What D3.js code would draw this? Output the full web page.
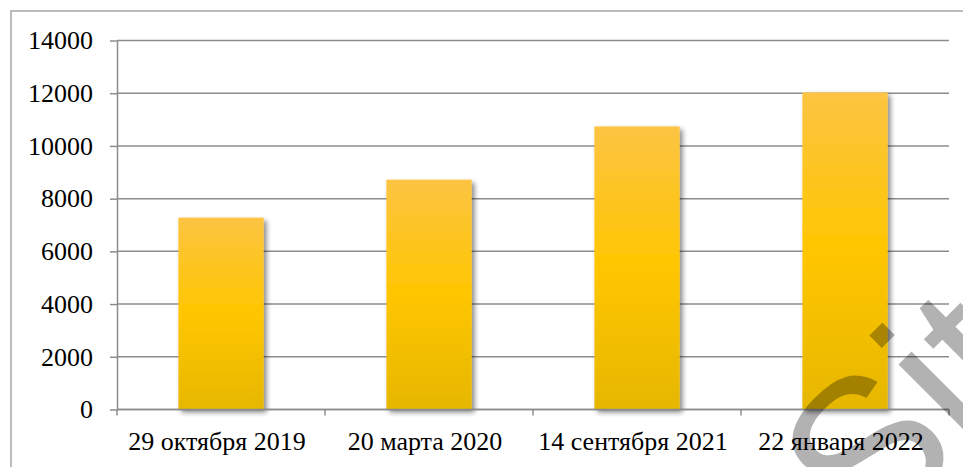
<!DOCTYPE html>
<html>
<head>
<meta charset="utf-8">
<script src="https://cdn.jsdelivr.net/npm/d3@7"></script>
<style>
  body { margin: 0; background: #fff; }
  text.lbl { font-family: "Liberation Serif", "Times New Roman", serif; }
</style>
</head>
<body>
<div id="chart"></div>
<script>
var categories = ["29 октября 2019", "20 марта 2020", "14 сентября 2021", "22 января 2022"];
var values = [7280, 8720, 10740, 12030];
var yTicks = [0, 2000, 4000, 6000, 8000, 10000, 12000, 14000];

var W = 963, H = 467;
var margin = {left: 117, right: 949, top: 40.5, bottom: 409.5};

var svg = d3.select('#chart').append('svg')
	.attr('width', W)
	.attr('height', H);

var defs = svg.append('defs');
var grad = defs.append('linearGradient')
	.attr('id', 'barGrad')
	.attr('x1', 0).attr('y1', 0).attr('x2', 0).attr('y2', 1);
grad.append('stop').attr('offset', '0%').attr('stop-color', '#fcc442');
grad.append('stop').attr('offset', '50%').attr('stop-color', '#ffc600');
grad.append('stop').attr('offset', '100%').attr('stop-color', '#e6b700');

var shadow = defs.append('filter').attr('id', 'shadow')
	.attr('x', '-20%').attr('y', '-10%').attr('width', '150%').attr('height', '130%');
shadow.append('feDropShadow')
	.attr('dx', 3).attr('dy', 3).attr('stdDeviation', 2.5)
	.attr('flood-color', '#000').attr('flood-opacity', 0.45);

// outer frame
svg.append('rect')
	.attr('x', 11).attr('y', 11)
	.attr('width', 1000).attr('height', 600)
	.attr('fill', 'none')
	.attr('stroke', '#a6a6a6')
	.attr('stroke-width', 1.5);

var x = d3.scaleBand()
	.domain(categories)
	.range([margin.left, margin.right])
	.padding(0);

var y = d3.scaleLinear()
	.domain([0, 14000])
	.range([margin.bottom, margin.top]);

// gridlines
svg.append('g').selectAll('line')
	.data(yTicks)
	.enter().append('line')
	.attr('x1', margin.left).attr('x2', margin.right)
	.attr('y1', function(d){ return y(d); })
	.attr('y2', function(d){ return y(d); })
	.attr('stroke', '#8c8c8c')
	.attr('stroke-width', 1.5);

// y axis
var yAxis = d3.axisLeft(y)
	.tickValues(yTicks)
	.tickSizeInner(7)
	.tickSizeOuter(0)
	.tickPadding(17)
	.tickFormat(d3.format('d'));

var gy = svg.append('g')
	.attr('transform', 'translate(' + margin.left + ',0)')
	.call(yAxis);
gy.select('.domain').attr('stroke', '#8c8c8c').attr('stroke-width', 1.5);
gy.selectAll('.tick line').attr('stroke', '#8c8c8c').attr('stroke-width', 1.5);
gy.selectAll('text')
	.attr('class', 'lbl')
	.attr('font-size', 26)
	.attr('fill', '#000');

// bars
var barW = x.bandwidth() * 0.41;
svg.append('g').selectAll('rect')
	.data(values)
	.enter().append('rect')
	.attr('x', function(d, i){ return x(categories[i]) + (x.bandwidth() - barW) / 2; })
	.attr('y', function(d){ return y(d); })
	.attr('width', barW)
	.attr('height', function(d){ return y(0) - y(d); })
	.attr('fill', 'url(#barGrad)')
	.attr('filter', 'url(#shadow)');

// x axis line with boundary ticks
var gx = svg.append('g');
gx.append('line')
	.attr('x1', margin.left).attr('x2', margin.right)
	.attr('y1', y(0)).attr('y2', y(0))
	.attr('stroke', '#8c8c8c').attr('stroke-width', 1.5);
var bounds = categories.map(function(c){ return x(c); }).concat([margin.right]);
gx.selectAll('line.tk')
	.data(bounds)
	.enter().append('line')
	.attr('class', 'tk')
	.attr('x1', function(d){ return d; }).attr('x2', function(d){ return d; })
	.attr('y1', y(0)).attr('y2', y(0) + 6)
	.attr('stroke', '#8c8c8c').attr('stroke-width', 1.5);
gx.selectAll('text')
	.data(categories)
	.enter().append('text')
	.attr('class', 'lbl')
	.attr('x', function(d){ return x(d) + x.bandwidth() / 2 - 4; })
	.attr('y', 450)
	.attr('text-anchor', 'middle')
	.attr('font-size', 26)
	.attr('fill', '#000')
	.text(function(d){ return d; });

// watermark
svg.append('text')
	.attr('transform', 'translate(868,552) rotate(-45)')
	.attr('font-family', '"Liberation Sans", Arial, sans-serif')
	.attr('font-size', 210)
	.attr('fill', '#000')
	.attr('fill-opacity', 0.3)
	.text('Sit');
</script>
</body>
</html>
